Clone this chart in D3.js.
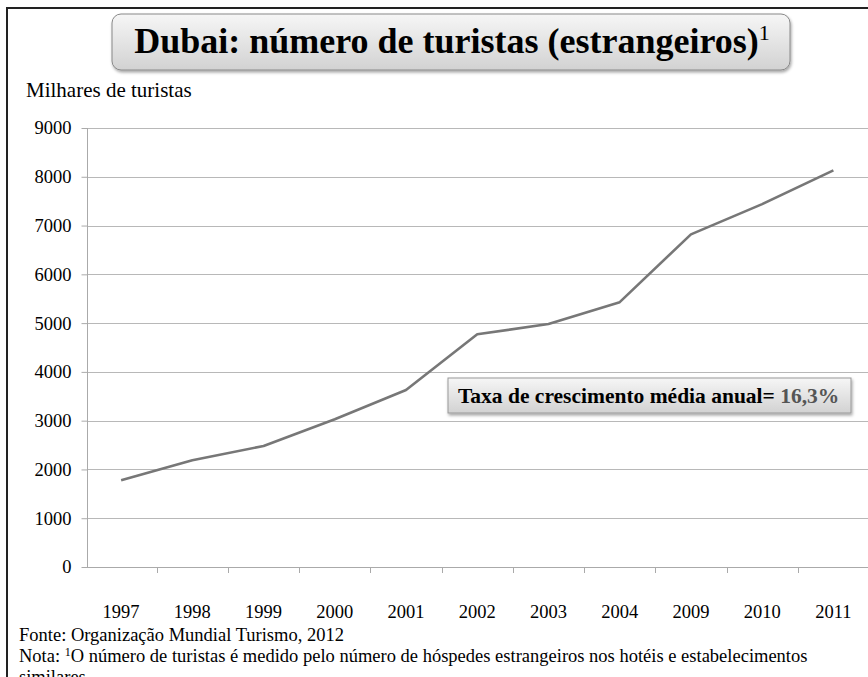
<!DOCTYPE html>
<html>
<head>
  <meta charset="utf-8">
  <title>Dubai: número de turistas</title>
  <script src="https://cdn.jsdelivr.net/npm/d3@7/dist/d3.min.js"></script>
  <style>
    body { margin: 0; background: #fff; }
    svg { display: block; font-family: "Liberation Serif", "Times New Roman", serif; }
  </style>
</head>
<body>
<div id="chart"></div>
<script>
  // data
  const years = ['1997', '1998', '1999', '2000', '2001', '2002', '2003', '2004', '2009', '2010', '2011'];
  const tourists = [1780, 2190, 2480, 3030, 3630, 4770, 4980, 5430, 6820, 7440, 8130];
  const yTicks = [0, 1000, 2000, 3000, 4000, 5000, 6000, 7000, 8000, 9000];

  const W = 868, H = 677;
  const serif = '"Liberation Serif", "Times New Roman", serif';
  const svg = d3.select('#chart').append('svg')
    .attr('width', W).attr('height', H);

  const defs = svg.append('defs');
  const grad = defs.append('linearGradient').attr('id', 'boxGrad')
    .attr('x1', 0).attr('y1', 0).attr('x2', 0).attr('y2', 1);
  grad.append('stop').attr('offset', '0%').attr('stop-color', '#f6f6f6');
  grad.append('stop').attr('offset', '100%').attr('stop-color', '#d2d2d2');
  const shadow = defs.append('filter').attr('id', 'shadow')
    .attr('x', '-5%').attr('y', '-20%').attr('width', '110%').attr('height', '150%');
  shadow.append('feDropShadow').attr('dx', 1).attr('dy', 2).attr('stdDeviation', 1.5)
    .attr('flood-color', '#000').attr('flood-opacity', 0.35);

  // outer frame
  svg.append('rect')
    .attr('x', 7).attr('y', 8).attr('width', W + 10).attr('height', H + 10)
    .attr('fill', 'none').attr('stroke', '#222').attr('stroke-width', 2);

  const x = d3.scaleBand().domain(years).range([85.5, 869]);
  const y = d3.scaleLinear().domain([0, 9000]).range([567, 128]);

  // gridlines
  svg.append('g').selectAll('line')
    .data(yTicks.filter(d => d > 0))
    .join('line')
    .attr('x1', 87).attr('x2', W)
    .attr('y1', d => Math.round(y(d)) + 0.5).attr('y2', d => Math.round(y(d)) + 0.5)
    .attr('stroke', '#b8b8b8').attr('stroke-width', 1.2);

  // y axis
  const yAxis = svg.append('g')
    .attr('transform', 'translate(87.5,0)')
    .call(d3.axisLeft(y).tickValues(yTicks).tickSize(6).tickPadding(10).tickFormat(d3.format('d')))
    .attr('font-family', serif).attr('font-size', 18.5);
  yAxis.select('.domain').attr('stroke', '#aaa').attr('d', `M0,${y(9000)}V${y(0)}`);
  yAxis.selectAll('.tick line').attr('stroke', '#aaa');
  yAxis.selectAll('.tick text').attr('fill', '#000');

  // x axis with ticks between categories
  const xAxis = svg.append('g')
    .attr('transform', `translate(0,${Math.round(y(0)) + 0.5})`)
    .call(d3.axisBottom(x).tickSize(0).tickPadding(50))
    .attr('font-family', serif).attr('font-size', 18.5);
  xAxis.select('.domain').attr('stroke', '#aaa').attr('d', `M87,0H${W}`);
  xAxis.selectAll('.tick text').attr('fill', '#000').attr('dy', 0);
  svg.append('g').selectAll('line')
    .data(years.slice(1))
    .join('line')
    .attr('x1', d => Math.round(x(d)) + 0.5).attr('x2', d => Math.round(x(d)) + 0.5)
    .attr('y1', y(0)).attr('y2', y(0) + 6)
    .attr('stroke', '#aaa');

  // series line
  const pts = years.map((yr, i) => [x(yr) + x.bandwidth() / 2, y(tourists[i])]);
  svg.append('path')
    .attr('d', d3.line()(pts))
    .attr('fill', 'none')
    .attr('stroke', '#777')
    .attr('stroke-width', 2.6)
    .attr('stroke-linejoin', 'round');

  // axis title
  svg.append('text')
    .attr('x', 26).attr('y', 97)
    .attr('font-size', 21)
    .text('Milhares de turistas');

  // title box
  svg.append('rect')
    .attr('x', 112).attr('y', 14).attr('width', 678).attr('height', 56)
    .attr('rx', 9).attr('ry', 9)
    .attr('fill', 'url(#boxGrad)').attr('stroke', '#888').attr('stroke-width', 1)
    .attr('filter', 'url(#shadow)');
  const title = svg.append('text')
    .attr('x', 452).attr('y', 53)
    .attr('text-anchor', 'middle')
    .attr('font-size', 36).attr('font-weight', 'bold');
  title.append('tspan').text('Dubai: número de turistas (estrangeiros)');
  title.append('tspan').attr('font-weight', 'normal').attr('font-size', 22).attr('dy', -13).text('1');

  // annotation box
  svg.append('rect')
    .attr('x', 448).attr('y', 378).attr('width', 403).attr('height', 35)
    .attr('fill', 'url(#boxGrad)').attr('stroke', '#999').attr('stroke-width', 1)
    .attr('filter', 'url(#shadow)');
  const note = svg.append('text')
    .attr('x', 458).attr('y', 403)
    .attr('font-size', 21.5).attr('font-weight', 'bold');
  note.append('tspan').text('Taxa de crescimento média anual= ');
  note.append('tspan').attr('fill', '#555').text('16,3%');

  // footnotes
  svg.append('text').attr('x', 19).attr('y', 641).attr('font-size', 18.5)
    .text('Fonte:  Organização  Mundial Turismo, 2012');
  const nota = svg.append('text').attr('x', 19).attr('y', 662).attr('font-size', 18.5);
  nota.append('tspan').text('Nota: ');
  nota.append('tspan').attr('font-size', 12).attr('dy', -6).text('1');
  nota.append('tspan').attr('dy', 6).text('O número de turistas é medido pelo número de hóspedes estrangeiros  nos hotéis e estabelecimentos');
  svg.append('text').attr('x', 19).attr('y', 683).attr('font-size', 18.5).text('similares');
</script>
</body>
</html>
